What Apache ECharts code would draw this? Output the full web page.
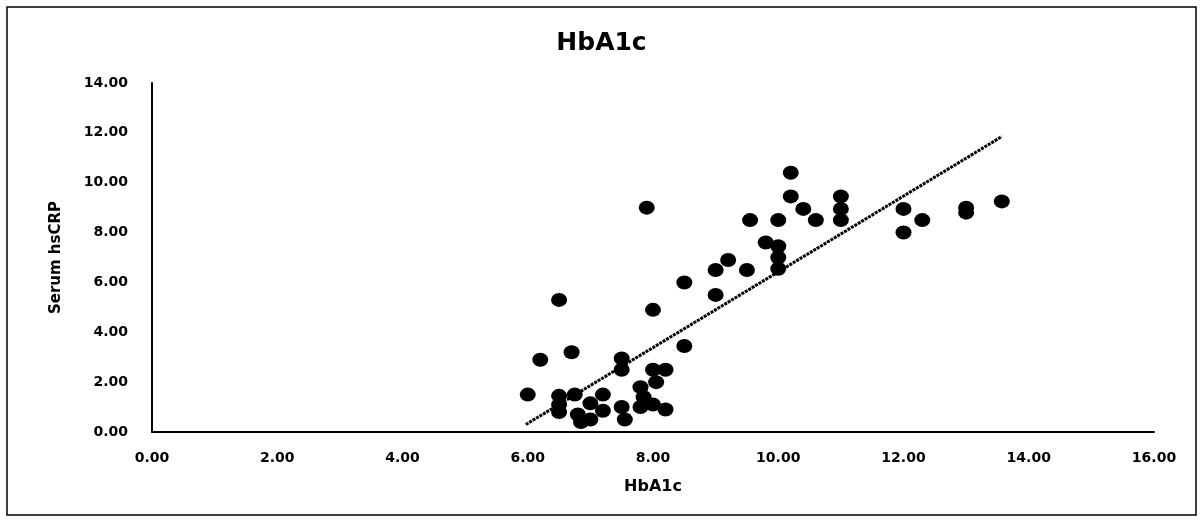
<!DOCTYPE html>
<html>
<head>
<meta charset="utf-8">
<script src="https://cdn.jsdelivr.net/npm/echarts@6/dist/echarts.min.js"></script>
<style>
html,body{margin:0;padding:0;background:#fff;}
#main{width:1203px;height:522px;}
</style>
</head>
<body>
<div id="main"></div>
<script>
// HbA1c (x) vs serum hsCRP (y)
var hba1c=[6.0,6.2,6.5,6.7,6.5,6.5,6.5,6.75,6.8,6.85,7.0,7.0,7.2,7.2,7.5,7.55,7.5,7.5,7.8,7.85,7.8,8.0,8.2,8.05,8.0,8.2,8.0,7.9,8.5,8.5,
           9.0,9.0,9.2,9.5,9.55,9.8,10.0,10.0,10.0,10.0,10.2,10.2,10.4,10.6,11.0,11.0,11.0,12.0,12.0,12.3,13.0,13.0,13.57];
var hscrp=[1.5,2.9,5.3,3.2,1.45,1.1,0.8,1.5,0.7,0.4,0.5,1.15,1.5,0.85,1.0,0.5,2.95,2.5,1.8,1.4,1.0,2.5,2.5,2.0,1.1,0.9,4.9,9.0,6.0,3.45,
           5.5,6.5,6.9,6.5,8.5,7.6,7.45,7.0,6.55,8.5,10.4,9.45,8.95,8.5,9.45,8.95,8.5,8.95,8.0,8.5,8.8,9.0,9.25];
var trendX=[5.97,13.57];
var trendY=[0.3,11.85];
var xTicks=[0,16,2];
var yTicks=[0,14,2];

var pts=[];
for(let i=0;i<hba1c.length;i++){
    pts.push([hba1c[i],hscrp[i]]);
}
var trend=[[trendX[0],trendY[0]],[trendX[1],trendY[1]]];

var chart=echarts.init(document.getElementById("main"));
var lbl={color:'#000',fontWeight:'bold',fontSize:14,fontFamily:'DejaVu Sans'};
var option={
    backgroundColor:'#fff',
    animation:false,
    title:{
        text:'HbA1c',
        left:'center',
        top:26,
        textStyle:{color:'#000',fontWeight:'bold',fontSize:25,fontFamily:'DejaVu Sans'}
    },
    graphic:[{
        type:'rect',
        shape:{x:7,y:7,width:1189,height:508},
        style:{fill:'none',stroke:'#000',lineWidth:1.5},
        silent:true,
        z:-1
    }],
    grid:{left:152,right:49,top:83,bottom:90},
    xAxis:{
        type:'value',
        min:xTicks[0],max:xTicks[1],interval:xTicks[2],
        name:'HbA1c',
        nameLocation:'middle',
        nameGap:47,
        nameTextStyle:{color:'#000',fontWeight:'bold',fontSize:16,fontFamily:'DejaVu Sans'},
        axisLine:{lineStyle:{color:'#000',width:2}},
        axisTick:{show:false},
        splitLine:{show:false},
        axisLabel:Object.assign({margin:19,formatter:function(v){return v.toFixed(2);}},lbl)
    },
    yAxis:{
        type:'value',
        min:yTicks[0],max:yTicks[1],interval:yTicks[2],
        name:'Serum hsCRP',
        nameLocation:'middle',
        nameGap:88,
        nameTextStyle:{color:'#000',fontWeight:'bold',fontSize:15,fontFamily:'DejaVu Sans'},
        axisLine:{show:true,lineStyle:{color:'#000',width:2}},
        axisTick:{show:false},
        splitLine:{show:false},
        axisLabel:Object.assign({margin:24,formatter:function(v){return v.toFixed(2);}},lbl)
    },
    series:[
        {
            name:'HbA1c',
            type:'scatter',
            data:pts,
            symbol:'circle',
            symbolSize:[16,14],
            itemStyle:{color:'#000',opacity:1}
        },
        {
            name:'trend',
            type:'line',
            data:trend,
            symbol:'none',
            lineStyle:{color:'#000',width:3,type:[3,1]},
            z:3
        }
    ]
};
chart.setOption(option);
</script>
</body>
</html>
